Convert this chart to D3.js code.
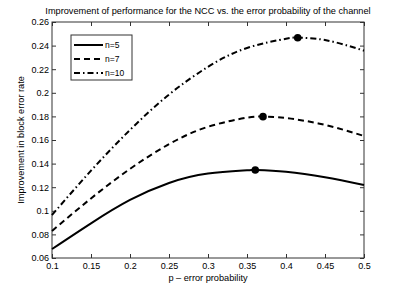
<!DOCTYPE html>
<html>
<head>
<meta charset="utf-8">
<script src="https://cdn.jsdelivr.net/npm/d3@7"></script>
<style>
  body { margin: 0; background: #fff; }
  svg { font-family: 'Liberation Sans', Arial, sans-serif; }
</style>
</head>
<body>
<div id="chart"></div>
<script>
const pValues = [0.1, 0.15, 0.2, 0.25, 0.3, 0.35, 0.4, 0.45, 0.5];
const n5 = [0.0676, 0.0894, 0.1092, 0.1236, 0.1316, 0.1343, 0.1331, 0.1285, 0.1219];
const n7 = [0.0829, 0.1105, 0.1355, 0.1565, 0.1712, 0.1789, 0.1786, 0.1728, 0.1634];
const n10 = [0.0964, 0.1340, 0.1685, 0.1985, 0.2220, 0.2380, 0.2458, 0.2447, 0.2357];
const peaks = [
  { key: 'n5', p: 0.3606, val: 0.1346 },
  { key: 'n7', p: 0.3705, val: 0.1798 },
  { key: 'n10', p: 0.415, val: 0.2467 },
];
const seriesKeys = ['n5', 'n7', 'n10'];
const seriesLabels = { n5: 'n=5', n7: 'n=7', n10: 'n=10' };
const xTicks = [0.1, 0.15, 0.2, 0.25, 0.3, 0.35, 0.4, 0.45, 0.5];
const yTicks = [0.06, 0.08, 0.1, 0.12, 0.14, 0.16, 0.18, 0.2, 0.22, 0.24, 0.26];

const makePlot = () => {
  const size = { width: 403, height: 291 };
  const margin = { top: 22, right: 39, bottom: 33, left: 52 };

  const svg = d3.select('#chart')
    .append('svg')
    .attr('width', size.width)
    .attr('height', size.height);

  const x = d3.scaleLinear()
    .domain([0.1, 0.5])
    .range([margin.left, size.width - margin.right]);
  const y = d3.scaleLinear()
    .domain([0.06, 0.26])
    .range([size.height - margin.bottom, margin.top]);

  const raw = { n5, n7, n10 };
  const data = seriesKeys.map((k) => {
    const pk = peaks.find((d) => d.key === k);
    const vals = pValues.map((p, i) => ({ p, val: raw[k][i] }));
    vals.push({ p: pk.p, val: pk.val });
    vals.sort((a, b) => a.p - b.p);
    return { key: k, values: vals };
  });

  const dash = { n5: null, n7: '6,4', n10: '6,3,1.5,3' };

  // axes box, ticks pointing in
  const fmt = (d) => String(+d.toFixed(2));
  const axisStyle = (g) => {
    g.select('.domain').remove();
    g.selectAll('line').attr('stroke', '#333');
    g.selectAll('text').attr('fill', '#000').style('font-size', '9px');
  };
  svg.append('g')
    .attr('transform', `translate(0,${y.range()[0]})`)
    .call(d3.axisBottom(x).tickValues(xTicks).tickSizeInner(-4).tickSizeOuter(0).tickPadding(5).tickFormat(fmt))
    .call(axisStyle);
  svg.append('g')
    .attr('transform', `translate(0,${y.range()[1]})`)
    .call(d3.axisTop(x).tickValues(xTicks).tickSizeInner(-4).tickSizeOuter(0).tickFormat(''))
    .call(axisStyle);
  svg.append('g')
    .attr('transform', `translate(${x.range()[0]},0)`)
    .call(d3.axisLeft(y).tickValues(yTicks).tickSizeInner(-4).tickSizeOuter(0).tickPadding(3).tickFormat(fmt))
    .call(axisStyle);
  svg.append('g')
    .attr('transform', `translate(${x.range()[1]},0)`)
    .call(d3.axisRight(y).tickValues(yTicks).tickSizeInner(-4).tickSizeOuter(0).tickFormat(''))
    .call(axisStyle);
  svg.append('rect')
    .attr('x', x.range()[0])
    .attr('y', y.range()[1])
    .attr('width', x.range()[1] - x.range()[0])
    .attr('height', y.range()[0] - y.range()[1])
    .attr('fill', 'none')
    .attr('stroke', '#333')
    .attr('stroke-width', 1);

  const line = d3.line()
    .curve(d3.curveNatural)
    .x((d) => x(d.p))
    .y((d) => y(d.val));

  svg.append('g')
    .selectAll('path')
    .data(data)
    .join('path')
    .attr('d', (d) => line(d.values))
    .attr('fill', 'none')
    .attr('stroke', '#000')
    .attr('stroke-width', 2)
    .attr('stroke-dasharray', (d) => dash[d.key]);

  svg.append('g')
    .selectAll('circle')
    .data(peaks)
    .join('circle')
    .attr('cx', (d) => x(d.p))
    .attr('cy', (d) => y(d.val))
    .attr('r', 3.8)
    .attr('fill', '#000');

  // title and axis labels
  svg.append('text')
    .attr('x', (x.range()[0] + x.range()[1]) / 2)
    .attr('y', 14)
    .attr('text-anchor', 'middle')
    .style('font-size', '9.2px')
    .text('Improvement of performance for the NCC vs. the error probability of the channel');
  svg.append('text')
    .attr('x', (x.range()[0] + x.range()[1]) / 2)
    .attr('y', 281)
    .attr('text-anchor', 'middle')
    .style('font-size', '9.2px')
    .text('p \u2013 error probability');
  svg.append('text')
    .attr('transform', `translate(24,${(y.range()[0] + y.range()[1]) / 2}) rotate(-90)`)
    .attr('text-anchor', 'middle')
    .style('font-size', '9.2px')
    .text('Improvement in block error rate');

  // legend
  const legend = svg.append('g').attr('transform', 'translate(71,35)');
  legend.append('rect')
    .attr('width', 61)
    .attr('height', 45)
    .attr('fill', '#fff')
    .attr('stroke', '#333');
  seriesKeys.forEach((k, i) => {
    const ly = 10 + i * 14;
    legend.append('line')
      .attr('x1', 3).attr('x2', 32)
      .attr('y1', ly).attr('y2', ly)
      .attr('stroke', '#000')
      .attr('stroke-width', 2)
      .attr('stroke-dasharray', dash[k]);
    legend.append('text')
      .attr('x', 34)
      .attr('y', ly + 3)
      .style('font-size', '8.5px')
      .text(seriesLabels[k]);
  });
};

makePlot();
</script>
</body>
</html>
